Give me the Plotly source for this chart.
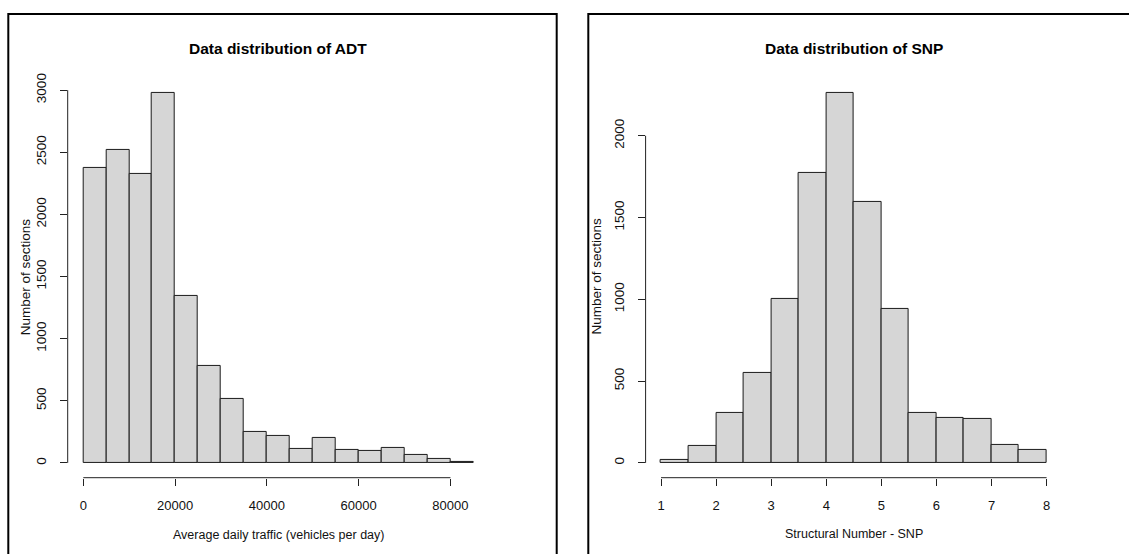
import plotly.graph_objects as go

# Figure size in pixels
W, H = 1129, 554

# ---- ADT histogram (bin edges and counts) ----
adt_edges = [0, 5000, 10000, 15000, 20000, 25000, 30000, 35000, 40000,
             45000, 50000, 55000, 60000, 65000, 70000, 75000, 80000, 85000]
adt_counts = [2373, 2522, 2325, 2979, 1343, 777, 513, 253, 215,
              114, 202, 106, 93, 120, 66, 30, 8]
adt_xticks = [0, 20000, 40000, 60000, 80000]
adt_yticks = [0, 500, 1000, 1500, 2000, 2500, 3000]

# ---- SNP histogram (bin edges and counts) ----
snp_edges = [1, 1.5, 2, 2.5, 3, 3.5, 4, 4.5, 5, 5.5, 6, 6.5, 7, 7.5, 8]
snp_counts = [18, 101, 308, 553, 1004, 1772, 2263, 1594, 939,
              304, 276, 270, 109, 81]
snp_xticks = [1, 2, 3, 4, 5, 6, 7, 8]
snp_yticks = [0, 500, 1000, 1500, 2000]

FONT = "Liberation Sans, Arial, Helvetica, sans-serif"
BAR_FILL = "#d6d6d6"


def px_x(p):
    return p / W


def px_y(p):
    return 1 - p / H


def r_range(lo, hi):
    # R-style 4% axis extension
    d = 0.04 * (hi - lo)
    return [lo - d, hi + d]


def hist_trace(edges, counts, xa, ya):
    mids = [(a + b) / 2 for a, b in zip(edges[:-1], edges[1:])]
    widths = [b - a for a, b in zip(edges[:-1], edges[1:])]
    return go.Bar(
        x=mids, y=counts, width=widths,
        marker=dict(color=BAR_FILL, line=dict(color="#1a1a1a", width=1)),
        xaxis=xa, yaxis=ya, showlegend=False, hoverinfo="skip",
    )


fig = go.Figure()
fig.add_trace(hist_trace(adt_edges, adt_counts, "x", "y"))
fig.add_trace(hist_trace(snp_edges, snp_counts, "x2", "y2"))

ydom = [px_y(477), px_y(73.6)]
left_dom = [px_x(67.7), px_x(489)]
right_dom = [px_x(645.6), px_x(1062)]

xcommon = dict(showgrid=False, zeroline=False, showline=False, ticks="outside",
               ticklen=7, tickwidth=1, tickcolor="#222",
               tickfont=dict(family=FONT, size=13, color="#111"),
               ticklabelstandoff=9)
ycommon = dict(showgrid=False, zeroline=False, showline=False, ticks="outside",
               ticklen=7, tickwidth=1, tickcolor="#222", tickangle=-90,
               tickfont=dict(family=FONT, size=13.5, color="#111"),
               ticklabelstandoff=8)

fig.update_layout(
    width=W, height=H,
    margin=dict(l=0, r=0, t=0, b=0),
    paper_bgcolor="white", plot_bgcolor="white",
    barmode="overlay", bargap=0,
    hovermode=False,
    xaxis=dict(domain=left_dom,
               range=r_range(adt_edges[0], adt_edges[-1]),
               tickvals=adt_xticks, ticktext=[str(v) for v in adt_xticks],
               anchor="y", **xcommon),
    yaxis=dict(domain=ydom, range=r_range(0, max(adt_counts)),
               tickvals=adt_yticks, ticktext=[str(v) for v in adt_yticks],
               anchor="x", **ycommon),
    xaxis2=dict(domain=right_dom,
                range=r_range(snp_edges[0], snp_edges[-1]),
                tickvals=snp_xticks, ticktext=[str(v) for v in snp_xticks],
                anchor="y2", **xcommon),
    yaxis2=dict(domain=ydom, range=r_range(0, max(snp_counts)),
                tickvals=snp_yticks, ticktext=[str(v) for v in snp_yticks],
                anchor="x2", **ycommon),
)

shapes = []
# Axis lines spanning first to last tick
for xa, ya, xt, yt in (("x", "y", adt_xticks, adt_yticks),
                       ("x2", "y2", snp_xticks, snp_yticks)):
    shapes.append(dict(type="line", xref=xa, yref=f"{ya} domain",
                       x0=xt[0], x1=xt[-1], y0=0, y1=0,
                       line=dict(color="#222", width=1)))
    shapes.append(dict(type="line", xref=f"{xa} domain", yref=ya,
                       x0=0, x1=0, y0=yt[0], y1=yt[-1],
                       line=dict(color="#222", width=1)))

# Panel frames
shapes.append(dict(type="rect", xref="paper", yref="paper",
                   x0=px_x(8.3), x1=px_x(556.7), y0=px_y(570), y1=px_y(9),
                   line=dict(color="black", width=2)))
shapes.append(dict(type="rect", xref="paper", yref="paper",
                   x0=px_x(588.3), x1=px_x(1145), y0=px_y(570), y1=px_y(9),
                   line=dict(color="black", width=2)))
fig.update_layout(shapes=shapes)

left_cx = (left_dom[0] + left_dom[1]) / 2
right_cx = (right_dom[0] + right_dom[1]) / 2

ann = []
# Titles, centred over each plot region
ann.append(dict(text="<b>Data distribution of ADT</b>", x=left_cx, y=px_y(44),
                font=dict(family=FONT, size=15.5, color="black")))
ann.append(dict(text="<b>Data distribution of SNP</b>", x=right_cx, y=px_y(44),
                font=dict(family=FONT, size=15.5, color="black")))
# X axis titles
ann.append(dict(text="Average daily traffic (vehicles per day)", x=left_cx, y=px_y(535),
                font=dict(family=FONT, size=12.5, color="#111")))
ann.append(dict(text="Structural Number - SNP", x=right_cx, y=px_y(534),
                font=dict(family=FONT, size=12.5, color="#111")))
# Y axis titles
ann.append(dict(text="Number of sections", x=px_x(25), y=px_y(274.7), textangle=-90,
                font=dict(family=FONT, size=13.5, color="#111")))
ann.append(dict(text="Number of sections", x=px_x(597), y=px_y(274), textangle=-90,
                font=dict(family=FONT, size=13.5, color="#111")))
for a in ann:
    a.update(xref="paper", yref="paper", xanchor="center", yanchor="middle",
             showarrow=False)
fig.update_layout(annotations=ann)

fig.write_html("out.html")
